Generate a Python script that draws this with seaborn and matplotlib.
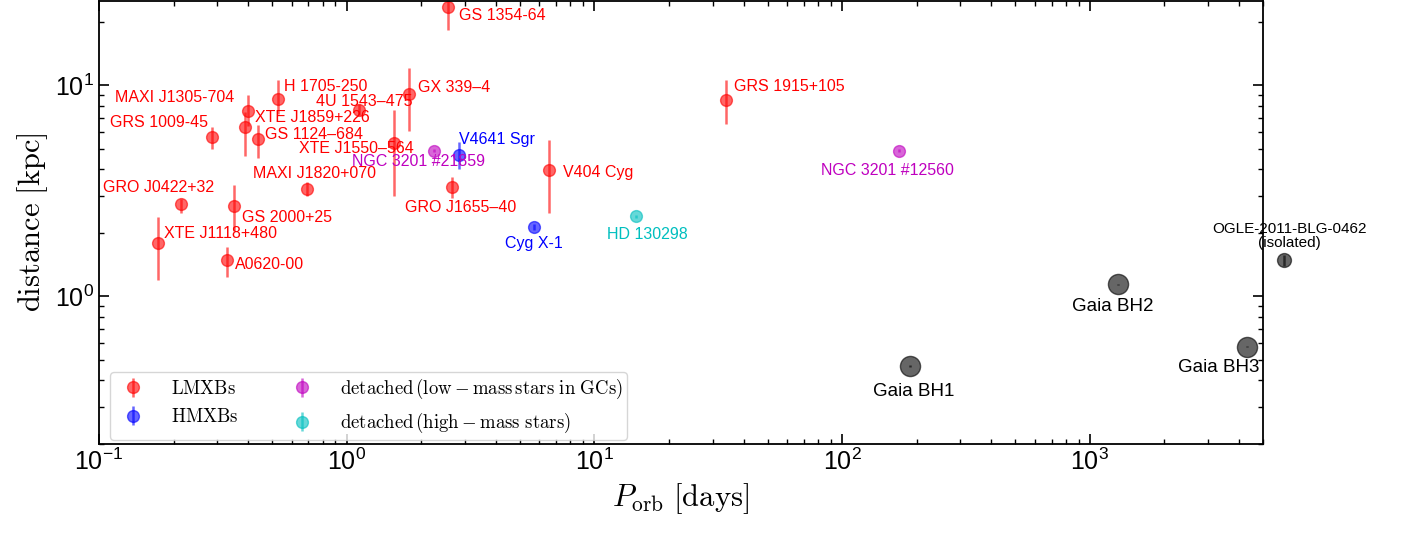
import matplotlib
matplotlib.use("Agg")
import matplotlib.pyplot as plt
import numpy as np
import seaborn as sns

# ---------------------------------------------------------------------------
# Data
# ---------------------------------------------------------------------------
LMXB_NAMES = [
    "GRS 1009-45", "MAXI J1305-704", "GRO J0422+32", "XTE J1118+480",
    "A0620-00", "GS 2000+25", "XTE J1859+226", "GS 1124\u2013684",
    "H 1705-250", "MAXI J1820+070", "4U 1543\u2013475", "XTE J1550\u2013564",
    "GX 339\u20134", "GS 1354-64", "GRO J1655\u201340", "V404 Cyg",
    "GRS 1915+105",
]
LMXB_P = [0.287, 0.401, 0.215, 0.173, 0.328, 0.351, 0.388, 0.438, 0.528,
          0.694, 1.125, 1.55, 1.776, 2.57, 2.66, 6.55, 34.0]
LMXB_D = [5.71, 7.55, 2.74, 1.78, 1.48, 2.69, 6.31, 5.53, 8.64,
          3.23, 7.66, 5.34, 9.06, 23.4, 3.29, 3.98, 8.55]
LMXB_D_LO = [4.97, 6.4, 2.48, 1.19, 1.24, 2.04, 4.6, 4.5, 7.3,
             2.99, 7.2, 3.0, 6.04, 18.3, 2.92, 2.49, 6.58]
LMXB_D_HI = [6.37, 9.0, 2.9, 2.38, 1.71, 3.37, 7.5, 6.5, 10.6,
             3.46, 8.1, 7.6, 12.0, 28.0, 3.66, 5.47, 10.6]

HMXB_NAMES = ["Cyg X-1", "V4641 Sgr"]
HMXB_P = [5.68, 2.84]
HMXB_D = [2.13, 4.69]
HMXB_D_LO = [2.06, 4.0]
HMXB_D_HI = [2.20, 5.37]

GC_NAMES = ["NGC 3201 #21859", "NGC 3201 #12560"]
GC_P = [2.26, 169.0]
GC_D = [4.9, 4.9]
GC_D_LO = [4.8, 4.8]
GC_D_HI = [5.0, 5.0]

HM_NAMES = ["HD 130298"]
HM_P = [14.7]
HM_D = [2.39]
HM_D_LO = [2.34]
HM_D_HI = [2.44]

GAIA_NAMES = ["Gaia BH1", "Gaia BH2", "Gaia BH3"]
GAIA_P = [188.7, 1295.0, 4316.0]
GAIA_D = [0.468, 1.14, 0.578]
GAIA_D_LO = [0.465, 1.13, 0.573]
GAIA_D_HI = [0.471, 1.15, 0.583]

OGLE_NAME = "OGLE-2011-BLG-0462\n(isolated)"
OGLE_P = [6090.0]
OGLE_D = [1.48]
OGLE_D_LO = [1.39]
OGLE_D_HI = [1.57]

# label offsets in pixels (dx, dy) and horizontal alignment
LMXB_OFFSETS = [(-4, 14, "right"), (-14, 13, "right"), (33, 16, "right"),
                (6, 10, "left"), (8, -4, "left"), (8, -12, "left"),
                (10, 10, "left"), (7, 5, "left"), (6, 12, "left"),
                (7, 15, "center"), (5, 8, "center"), (20, -6, "right"),
                (9, 7, "left"), (11, -8, "left"), (9, -20, "center"),
                (14, -3, "left"), (8, 13, "left")]
HMXB_OFFSETS = [(0, -16, "center"), (0, 15, "left")]
GC_OFFSETS = [(-16, -11, "center"), (-11, -20, "center")]
HM_OFFSETS = [(11, -18, "center")]
GAIA_OFFSETS = [(3, -25, "center"), (-5, -22, "center"), (-29, -21, "center")]

RED, BLUE, MAGENTA, CYAN = "#ff0000", "#0000ff", "#bf00bf", "#00bfbf"


def bounds_to_err(d, lo, hi):
    d = np.asarray(d)
    return [d - np.asarray(lo), np.asarray(hi) - d]


def label_points(ax, names, xs, ys, offsets, color, size):
    for name, x, y, (dx, dy, ha) in zip(names, xs, ys, offsets):
        ax.annotate(name, (x, y), xytext=(dx, dy), textcoords="offset pixels",
                    ha=ha, va="center", color=color, fontsize=size,
                    annotation_clip=False)


sns.set_theme(style="ticks", color_codes=False)
plt.rcParams["font.family"] = ["Liberation Sans", "DejaVu Sans"]
plt.rcParams["mathtext.fontset"] = "cm"
plt.rcParams["axes.linewidth"] = 1.3
plt.rcParams["axes.edgecolor"] = "black"
plt.rcParams["xtick.color"] = "black"
plt.rcParams["ytick.color"] = "black"
plt.rcParams["text.color"] = "black"
plt.rcParams["axes.labelcolor"] = "black"

fig, ax = plt.subplots(figsize=(14.02, 5.36), dpi=100)
fig.subplots_adjust(left=0.0706, right=0.9009, bottom=0.1716, top=0.998)

groups = [
    (LMXB_P, LMXB_D, LMXB_D_LO, LMXB_D_HI, RED, r"$\rm LMXBs$"),
    (HMXB_P, HMXB_D, HMXB_D_LO, HMXB_D_HI, BLUE, r"$\rm HMXBs$"),
    (GC_P, GC_D, GC_D_LO, GC_D_HI, MAGENTA,
     r"$\rm detached\,(low-mass\,stars\ in\ GCs)$"),
    (HM_P, HM_D, HM_D_LO, HM_D_HI, CYAN,
     r"$\rm detached\,(high-mass\ stars)$"),
]
for p, d, lo, hi, col, lab in groups:
    ax.errorbar(p, d, yerr=bounds_to_err(d, lo, hi), fmt="o", color=col,
                ms=8.5, elinewidth=1.8, capsize=0, alpha=0.6, label=lab)

ax.errorbar(GAIA_P, GAIA_D, yerr=bounds_to_err(GAIA_D, GAIA_D_LO, GAIA_D_HI),
            fmt="o", color="k", ms=14.5, elinewidth=1.8, capsize=0, alpha=0.6)
ogle = ax.errorbar(OGLE_P, OGLE_D,
                   yerr=bounds_to_err(OGLE_D, OGLE_D_LO, OGLE_D_HI),
                   fmt="o", color="k", ms=10, elinewidth=1.8, capsize=0,
                   alpha=0.6)
for art in ogle.get_children():
    art.set_clip_on(False)

label_points(ax, LMXB_NAMES, LMXB_P, LMXB_D, LMXB_OFFSETS, RED, 11.5)
label_points(ax, HMXB_NAMES, HMXB_P, HMXB_D, HMXB_OFFSETS, BLUE, 11.5)
label_points(ax, GC_NAMES, GC_P, GC_D, GC_OFFSETS, MAGENTA, 11.5)
label_points(ax, HM_NAMES, HM_P, HM_D, HM_OFFSETS, CYAN, 11.5)
label_points(ax, GAIA_NAMES, GAIA_P, GAIA_D, GAIA_OFFSETS, "k", 13.5)
ax.annotate(OGLE_NAME, (OGLE_P[0], OGLE_D[0]), xytext=(5, 24),
            textcoords="offset pixels", ha="center", va="center",
            color="k", fontsize=11, linespacing=1.0, annotation_clip=False)

ax.set_xscale("log")
ax.set_yscale("log")
ax.set_xlim(0.1, 5000)
ax.set_ylim(0.2, 25)
ax.yaxis.set_minor_formatter(matplotlib.ticker.NullFormatter())
ax.xaxis.set_minor_formatter(matplotlib.ticker.NullFormatter())
ax.tick_params(which="both", direction="in", top=True, right=True)
ax.tick_params(which="major", length=7, width=1.2, labelsize=18)
ax.tick_params(which="minor", length=3.5, width=1.0)

ax.set_xlabel(r"$P_{\rm orb}\ [\rm days]$", fontsize=22)
ax.set_ylabel(r"$\rm distance\ [kpc]$", fontsize=22)

ax.legend(loc="lower left", bbox_to_anchor=(0.0095, 0.009), ncol=2,
          fontsize=13.5, frameon=True, columnspacing=2.4, handletextpad=1.0,
          borderpad=0.25, labelspacing=0.55, borderaxespad=0.0)

fig.savefig("out.png", dpi=100)
